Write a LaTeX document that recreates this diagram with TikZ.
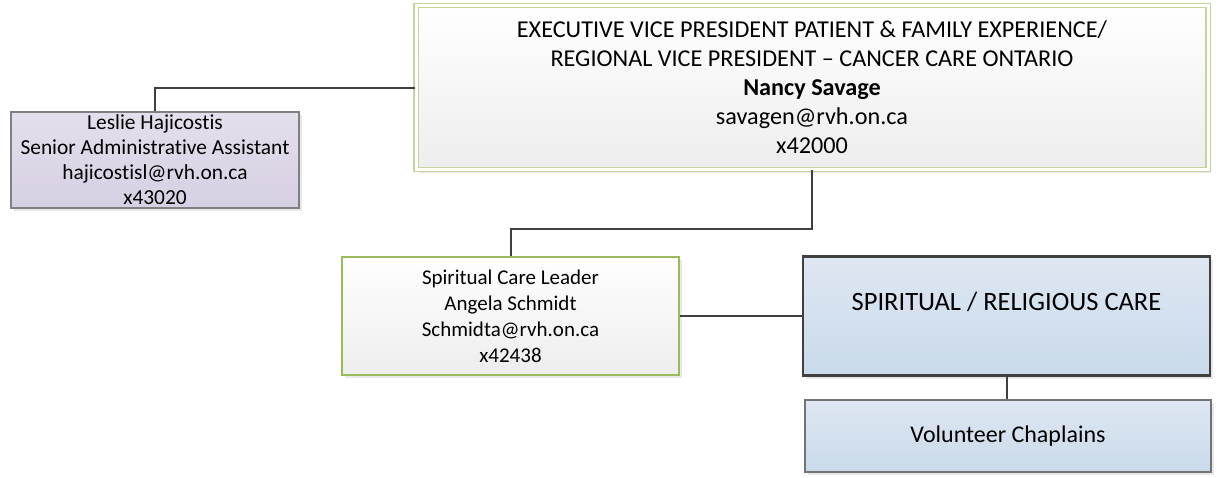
\documentclass[tikz,border=0pt]{standalone}
\usepackage{fontspec}
\setmainfont{Carlito}[Ligatures=NoCommon]
\usepackage{tikz}
\usetikzlibrary{calc,positioning,shadows}

\definecolor{evpgreen}{HTML}{C3D69B}
\definecolor{leadgreen}{HTML}{9BBB59}
\definecolor{lilac}{HTML}{E4DFEC}
\definecolor{lilacdark}{HTML}{D7CFE3}
\definecolor{paleblue}{HTML}{DEE7F2}
\definecolor{blueshade}{HTML}{C9DAEA}
\definecolor{linegray}{HTML}{404040}

\begin{document}
\begin{tikzpicture}[x=1pt,y=-1pt,
		box/.style={rectangle, inner sep=0pt, align=center, font=\fontsize{21.4}{25}\selectfont,
			drop shadow={shadow xshift=3pt, shadow yshift=-3pt, opacity=.18}},
		evpbox/.style={box, draw=evpgreen, line width=1.3pt, double=white, double distance=3pt,
			top color=white, bottom color=black!7, font=\fontsize{24.2}{29}\selectfont},
		assistbox/.style={box, draw=black!50, line width=1.2pt, top color=lilac, bottom color=lilacdark},
		leadbox/.style={box, draw=leadgreen, line width=2pt, top color=white, bottom color=black!7,
			font=\fontsize{21}{26}\selectfont},
		unitbox/.style={box, draw=linegray, line width=2.5pt, top color=paleblue, bottom color=blueshade,
			font=\fontsize{26.5}{30}\selectfont, text height=20pt, text depth=31pt},
		teambox/.style={box, draw=black!55, line width=1.2pt, top color=paleblue, bottom color=blueshade,
			font=\fontsize{24}{28}\selectfont},
		conn/.style={draw=linegray, line width=2pt}]

		\useasboundingbox (0,0) rectangle (1219,477);

		% Vakken
		\node[evpbox, minimum width=792pt, minimum height=164pt] (evp) at (812,87.5)
			{EXECUTIVE VICE PRESIDENT PATIENT \& FAMILY EXPERIENCE/\\
			 REGIONAL VICE PRESIDENT -- CANCER CARE ONTARIO\\
			 \textbf{Nancy Savage}\\
			 savagen@rvh.on.ca\\
			 x42000};
		\node[assistbox, minimum width=288pt, minimum height=96pt] (assist) at (155,160)
			{Leslie Hajicostis\\ Senior Administrative Assistant\\ hajicostisl@rvh.on.ca\\ x43020};
		\node[leadbox, minimum width=337pt, minimum height=118pt] (leader) at (510.5,316)
			{Spiritual Care Leader\\ Angela Schmidt\\ Schmidta@rvh.on.ca\\ x42438};
		\node[unitbox, minimum width=407pt, minimum height=119pt] (care) at (1006.5,316)
			{SPIRITUAL / RELIGIOUS CARE};
		\node[teambox, minimum width=406pt, minimum height=72pt] (chaplains) at (1008,436)
			{Volunteer Chaplains};

		% Verbindingen
		\draw[conn] (evp.west) -| (assist.north);
		\draw[conn] (evp.south) -- ++(0,59) -| (leader.north);
		\draw[conn] (leader.east) -- (care.west);
		\draw[conn] (care.south) -- (care.south |- chaplains.north);

	\end{tikzpicture}
\end{document}
